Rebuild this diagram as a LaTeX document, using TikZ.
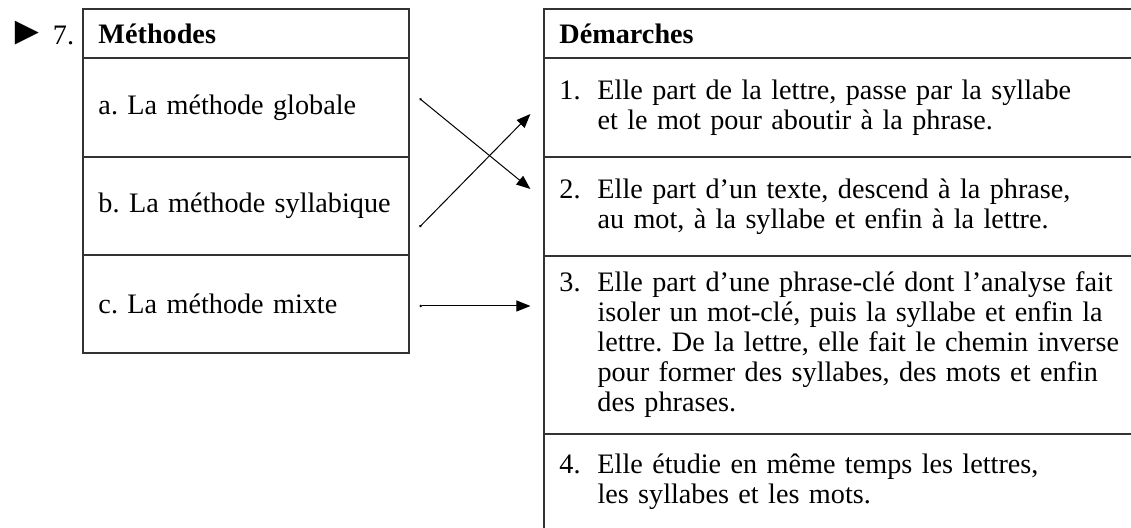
\documentclass[tikz,border=0pt]{standalone}
\usepackage{fontspec}
\setmainfont{Liberation Serif}
\usetikzlibrary{arrows.meta,matrix}
\frenchspacing

% numbered step with hanging lines
\newcommand\demarche[2]{\noindent\makebox[19pt][l]{#1}\parbox[t]{300pt}{#2}}
\newcommand\methode[1]{\noindent\mbox{#1}}

\begin{document}
\begin{tikzpicture}[x=0.5pt,y=-0.5pt,>={Triangle[length=7pt,width=5.5pt]},
    cell/.style={rectangle,draw=black!80,line width=0.6pt,inner xsep=7.75pt,
                 inner ysep=0pt,align=left,font=\fontsize{14.1}{15}\selectfont},
    link/.style={{Circle[length=1.2pt]}->,line width=0.5pt}]
  \clip (0,0) rectangle (1131,528);
  \node[anchor=west,inner sep=0pt,font=\fontsize{14.1}{15}\selectfont] (num) at (7,33)
    {{\fontsize{20}{20}\selectfont ►}\hspace{3pt}7.};
  \matrix (meth) [matrix of nodes,inner sep=0pt,anchor=north west,row sep=-0.6pt,
                  nodes={cell,text width=147.5pt}] at (82,8)
  {
    |[minimum height=24.5pt]| \methode{\textbf{Méthodes}} \\
    |(ma)[minimum height=49.5pt]| \methode{a. La méthode globale} \\
    |(mb)[minimum height=49pt]| \methode{b. La méthode syllabique} \\
    |(mc)[minimum height=49pt]| \methode{c. La méthode mixte} \\
  };
  \matrix (dem) [matrix of nodes,inner sep=0pt,anchor=north west,row sep=-0.6pt,
                 nodes={cell,text width=284.5pt}] at (543,8)
  {
    |[minimum height=24.5pt]| \methode{\textbf{Démarches}} \\
    |(d1)[minimum height=49.5pt]| \demarche{1.}{Elle part de la lettre, passe par la syllabe\\
      et le mot pour aboutir à la phrase.} \\
    |(d2)[minimum height=49.5pt]| \demarche{2.}{Elle part d’un texte, descend à la phrase,\\
      au mot, à la syllabe et enfin à la lettre.} \\
    |(d3)[minimum height=89pt]| \demarche{3.}{Elle part d’une phrase-clé dont l’analyse fait\\
      isoler un mot-clé, puis la syllabe et enfin la\\
      lettre. De la lettre, elle fait le chemin inverse\\
      pour former des syllabes, des mots et enfin\\
      des phrases.} \\
    |(d4)[minimum height=48pt]| \demarche{4.}{Elle étudie en même temps les lettres,\\
      les syllabes et les mots.} \\
  };
  \draw[link] ([xshift=5pt,yshift=4.5pt]ma.east) -- ([xshift=-6.5pt,yshift=8.75pt]d2.west);
  \draw[link] ([xshift=5pt,yshift=-10.5pt]mb.east) -- ([xshift=-6.5pt,yshift=-3.25pt]d1.west);
  \draw[link] ([xshift=5pt,yshift=-1pt]mc.east) -- ([xshift=-6.5pt,yshift=19.5pt]d3.west);
\end{tikzpicture}
\end{document}
